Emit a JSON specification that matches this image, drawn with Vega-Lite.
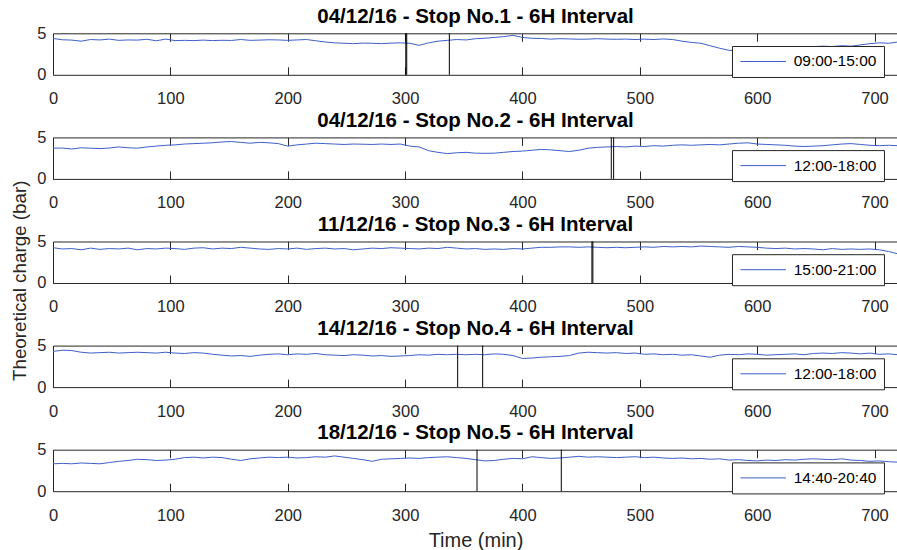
{
"$schema": "https://vega.github.io/schema/vega-lite/v6.json",
"padding": {"left": 9, "top": 6.3, "right": 0, "bottom": 0},
"bounds": "flush",
"spacing": 62.1,
"datasets": {
"p1": [{"t":0,"v":4.38},{"t":8,"v":4.22},{"t":16,"v":4.18},{"t":24,"v":4.05},{"t":32,"v":4.25},{"t":40,"v":4.2},{"t":48,"v":4.3},{"t":56,"v":4.15},{"t":64,"v":4.2},{"t":72,"v":4.18},{"t":80,"v":4.28},{"t":88,"v":4.1},{"t":96,"v":4.3},{"t":104,"v":4.12},{"t":112,"v":4.15},{"t":120,"v":4.12},{"t":128,"v":4.18},{"t":136,"v":4.12},{"t":144,"v":4.16},{"t":152,"v":4.14},{"t":160,"v":4.25},{"t":168,"v":4.15},{"t":176,"v":4.18},{"t":184,"v":4.22},{"t":192,"v":4.2},{"t":200,"v":4.15},{"t":208,"v":4.2},{"t":216,"v":4.25},{"t":224,"v":4.1},{"t":232,"v":3.95},{"t":240,"v":3.85},{"t":248,"v":3.8},{"t":256,"v":3.75},{"t":264,"v":3.82},{"t":272,"v":3.8},{"t":280,"v":3.75},{"t":288,"v":3.82},{"t":296,"v":3.85},{"t":304,"v":3.8},{"t":312,"v":3.55},{"t":320,"v":3.85},{"t":328,"v":4.05},{"t":336,"v":4.15},{"t":344,"v":4.25},{"t":352,"v":4.2},{"t":360,"v":4.35},{"t":368,"v":4.4},{"t":376,"v":4.5},{"t":384,"v":4.6},{"t":392,"v":4.75},{"t":400,"v":4.5},{"t":408,"v":4.4},{"t":416,"v":4.38},{"t":424,"v":4.3},{"t":432,"v":4.35},{"t":440,"v":4.32},{"t":448,"v":4.28},{"t":456,"v":4.3},{"t":464,"v":4.35},{"t":472,"v":4.3},{"t":480,"v":4.28},{"t":488,"v":4.3},{"t":496,"v":4.25},{"t":504,"v":4.3},{"t":512,"v":4.25},{"t":520,"v":4.32},{"t":528,"v":4.25},{"t":536,"v":4.05},{"t":544,"v":3.9},{"t":552,"v":3.8},{"t":560,"v":3.5},{"t":568,"v":3.2},{"t":576,"v":2.95},{"t":584,"v":2.9},{"t":592,"v":2.95},{"t":600,"v":3.0},{"t":608,"v":3.1},{"t":616,"v":3.2},{"t":624,"v":3.35},{"t":632,"v":3.4},{"t":640,"v":3.35},{"t":648,"v":3.4},{"t":656,"v":3.45},{"t":664,"v":3.4},{"t":672,"v":3.5},{"t":680,"v":3.45},{"t":688,"v":3.6},{"t":696,"v":3.75},{"t":704,"v":3.85},{"t":712,"v":3.8},{"t":720,"v":3.95}],
"p2": [{"t":0,"v":3.7},{"t":8,"v":3.72},{"t":16,"v":3.6},{"t":24,"v":3.75},{"t":32,"v":3.7},{"t":40,"v":3.65},{"t":48,"v":3.72},{"t":56,"v":3.85},{"t":64,"v":3.75},{"t":72,"v":3.7},{"t":80,"v":3.85},{"t":88,"v":3.95},{"t":96,"v":4.05},{"t":104,"v":4.1},{"t":112,"v":4.2},{"t":120,"v":4.25},{"t":128,"v":4.3},{"t":136,"v":4.35},{"t":144,"v":4.45},{"t":152,"v":4.5},{"t":160,"v":4.4},{"t":168,"v":4.3},{"t":176,"v":4.4},{"t":184,"v":4.35},{"t":192,"v":4.25},{"t":200,"v":3.95},{"t":208,"v":4.1},{"t":216,"v":4.2},{"t":224,"v":4.3},{"t":232,"v":4.25},{"t":240,"v":4.2},{"t":248,"v":4.15},{"t":256,"v":4.2},{"t":264,"v":4.18},{"t":272,"v":4.15},{"t":280,"v":4.2},{"t":288,"v":4.15},{"t":296,"v":4.2},{"t":304,"v":3.95},{"t":312,"v":3.85},{"t":320,"v":3.4},{"t":328,"v":3.2},{"t":336,"v":3.05},{"t":344,"v":3.15},{"t":352,"v":3.2},{"t":360,"v":3.1},{"t":368,"v":3.08},{"t":376,"v":3.1},{"t":384,"v":3.2},{"t":392,"v":3.3},{"t":400,"v":3.35},{"t":408,"v":3.45},{"t":416,"v":3.55},{"t":424,"v":3.5},{"t":432,"v":3.4},{"t":440,"v":3.3},{"t":448,"v":3.45},{"t":456,"v":3.7},{"t":464,"v":3.8},{"t":472,"v":3.85},{"t":480,"v":3.9},{"t":488,"v":3.85},{"t":496,"v":3.95},{"t":504,"v":3.9},{"t":512,"v":4.0},{"t":520,"v":3.95},{"t":528,"v":4.05},{"t":536,"v":4.1},{"t":544,"v":4.05},{"t":552,"v":4.1},{"t":560,"v":4.15},{"t":568,"v":4.1},{"t":576,"v":4.2},{"t":584,"v":4.3},{"t":592,"v":4.35},{"t":600,"v":4.2},{"t":608,"v":4.15},{"t":616,"v":4.1},{"t":624,"v":4.05},{"t":632,"v":3.95},{"t":640,"v":3.9},{"t":648,"v":3.95},{"t":656,"v":4.0},{"t":664,"v":4.1},{"t":672,"v":4.2},{"t":680,"v":4.25},{"t":688,"v":4.15},{"t":696,"v":4.05},{"t":704,"v":4.0},{"t":712,"v":4.05},{"t":720,"v":4.0}],
"p3": [{"t":0,"v":4.25},{"t":8,"v":4.1},{"t":16,"v":4.15},{"t":24,"v":4.0},{"t":32,"v":4.2},{"t":40,"v":4.05},{"t":48,"v":4.15},{"t":56,"v":4.1},{"t":64,"v":4.2},{"t":72,"v":4.0},{"t":80,"v":4.15},{"t":88,"v":4.1},{"t":96,"v":4.2},{"t":104,"v":4.15},{"t":112,"v":4.05},{"t":120,"v":4.2},{"t":128,"v":4.25},{"t":136,"v":4.1},{"t":144,"v":4.2},{"t":152,"v":4.15},{"t":160,"v":4.3},{"t":168,"v":4.2},{"t":176,"v":4.1},{"t":184,"v":4.05},{"t":192,"v":4.15},{"t":200,"v":4.1},{"t":208,"v":4.2},{"t":216,"v":4.05},{"t":224,"v":4.15},{"t":232,"v":4.2},{"t":240,"v":4.1},{"t":248,"v":4.15},{"t":256,"v":4.0},{"t":264,"v":4.1},{"t":272,"v":4.2},{"t":280,"v":4.15},{"t":288,"v":4.25},{"t":296,"v":4.2},{"t":304,"v":4.15},{"t":312,"v":4.1},{"t":320,"v":4.2},{"t":328,"v":4.15},{"t":336,"v":4.3},{"t":344,"v":4.2},{"t":352,"v":4.1},{"t":360,"v":4.15},{"t":368,"v":4.05},{"t":376,"v":4.1},{"t":384,"v":4.05},{"t":392,"v":4.15},{"t":400,"v":4.1},{"t":408,"v":4.2},{"t":416,"v":4.3},{"t":424,"v":4.3},{"t":432,"v":4.35},{"t":440,"v":4.35},{"t":448,"v":4.3},{"t":456,"v":4.35},{"t":464,"v":4.3},{"t":472,"v":4.25},{"t":480,"v":4.3},{"t":488,"v":4.25},{"t":496,"v":4.3},{"t":504,"v":4.35},{"t":512,"v":4.3},{"t":520,"v":4.4},{"t":528,"v":4.35},{"t":536,"v":4.4},{"t":544,"v":4.35},{"t":552,"v":4.45},{"t":560,"v":4.4},{"t":568,"v":4.35},{"t":576,"v":4.3},{"t":584,"v":4.4},{"t":592,"v":4.35},{"t":600,"v":4.3},{"t":608,"v":4.2},{"t":616,"v":4.15},{"t":624,"v":4.2},{"t":632,"v":4.1},{"t":640,"v":4.15},{"t":648,"v":4.1},{"t":656,"v":4.0},{"t":664,"v":4.15},{"t":672,"v":4.05},{"t":680,"v":4.1},{"t":688,"v":4.05},{"t":696,"v":4.1},{"t":704,"v":4.0},{"t":712,"v":3.8},{"t":720,"v":3.5}],
"p4": [{"t":0,"v":4.3},{"t":8,"v":4.45},{"t":16,"v":4.4},{"t":24,"v":4.2},{"t":32,"v":4.1},{"t":40,"v":4.15},{"t":48,"v":4.2},{"t":56,"v":4.1},{"t":64,"v":4.15},{"t":72,"v":4.2},{"t":80,"v":4.15},{"t":88,"v":4.1},{"t":96,"v":4.2},{"t":104,"v":4.1},{"t":112,"v":4.05},{"t":120,"v":4.15},{"t":128,"v":4.1},{"t":136,"v":3.95},{"t":144,"v":3.85},{"t":152,"v":3.75},{"t":160,"v":3.8},{"t":168,"v":3.7},{"t":176,"v":3.85},{"t":184,"v":3.95},{"t":192,"v":4.0},{"t":200,"v":3.9},{"t":208,"v":4.0},{"t":216,"v":3.95},{"t":224,"v":4.05},{"t":232,"v":3.9},{"t":240,"v":3.85},{"t":248,"v":3.8},{"t":256,"v":3.9},{"t":264,"v":3.85},{"t":272,"v":3.75},{"t":280,"v":3.8},{"t":288,"v":3.7},{"t":296,"v":3.75},{"t":304,"v":3.8},{"t":312,"v":3.9},{"t":320,"v":3.85},{"t":328,"v":3.95},{"t":336,"v":3.9},{"t":344,"v":3.95},{"t":352,"v":3.9},{"t":360,"v":3.95},{"t":368,"v":3.9},{"t":376,"v":4.0},{"t":384,"v":3.95},{"t":392,"v":3.8},{"t":400,"v":3.45},{"t":408,"v":3.5},{"t":416,"v":3.6},{"t":424,"v":3.65},{"t":432,"v":3.7},{"t":440,"v":3.8},{"t":448,"v":4.1},{"t":456,"v":4.2},{"t":464,"v":4.15},{"t":472,"v":4.1},{"t":480,"v":4.15},{"t":488,"v":4.05},{"t":496,"v":4.1},{"t":504,"v":3.95},{"t":512,"v":4.0},{"t":520,"v":3.9},{"t":528,"v":3.95},{"t":536,"v":3.85},{"t":544,"v":3.9},{"t":552,"v":3.75},{"t":560,"v":3.6},{"t":568,"v":3.85},{"t":576,"v":3.95},{"t":584,"v":3.9},{"t":592,"v":4.0},{"t":600,"v":3.95},{"t":608,"v":3.85},{"t":616,"v":3.9},{"t":624,"v":3.95},{"t":632,"v":4.0},{"t":640,"v":3.9},{"t":648,"v":4.05},{"t":656,"v":4.1},{"t":664,"v":4.05},{"t":672,"v":4.15},{"t":680,"v":4.1},{"t":688,"v":4.0},{"t":696,"v":4.1},{"t":704,"v":3.95},{"t":712,"v":4.0},{"t":720,"v":3.9}],
"p5": [{"t":0,"v":3.3},{"t":8,"v":3.35},{"t":16,"v":3.3},{"t":24,"v":3.4},{"t":32,"v":3.35},{"t":40,"v":3.3},{"t":48,"v":3.45},{"t":56,"v":3.6},{"t":64,"v":3.7},{"t":72,"v":3.85},{"t":80,"v":3.8},{"t":88,"v":3.7},{"t":96,"v":3.75},{"t":104,"v":3.85},{"t":112,"v":4.05},{"t":120,"v":4.1},{"t":128,"v":4.0},{"t":136,"v":4.1},{"t":144,"v":4.05},{"t":152,"v":3.85},{"t":160,"v":3.7},{"t":168,"v":3.9},{"t":176,"v":4.0},{"t":184,"v":4.1},{"t":192,"v":4.05},{"t":200,"v":4.1},{"t":208,"v":4.0},{"t":216,"v":4.05},{"t":224,"v":4.15},{"t":232,"v":4.1},{"t":240,"v":4.25},{"t":248,"v":4.1},{"t":256,"v":3.95},{"t":264,"v":3.8},{"t":272,"v":3.6},{"t":280,"v":3.85},{"t":288,"v":3.9},{"t":296,"v":3.95},{"t":304,"v":4.0},{"t":312,"v":3.95},{"t":320,"v":4.05},{"t":328,"v":4.1},{"t":336,"v":4.15},{"t":344,"v":4.05},{"t":352,"v":3.95},{"t":360,"v":3.8},{"t":368,"v":3.65},{"t":376,"v":3.7},{"t":384,"v":3.85},{"t":392,"v":3.95},{"t":400,"v":3.9},{"t":408,"v":4.15},{"t":416,"v":4.05},{"t":424,"v":3.95},{"t":432,"v":4.0},{"t":440,"v":4.1},{"t":448,"v":4.2},{"t":456,"v":4.1},{"t":464,"v":4.15},{"t":472,"v":4.1},{"t":480,"v":4.05},{"t":488,"v":4.1},{"t":496,"v":4.15},{"t":504,"v":4.05},{"t":512,"v":4.1},{"t":520,"v":4.0},{"t":528,"v":3.95},{"t":536,"v":4.0},{"t":544,"v":3.9},{"t":552,"v":3.95},{"t":560,"v":3.85},{"t":568,"v":3.9},{"t":576,"v":3.75},{"t":584,"v":3.8},{"t":592,"v":3.7},{"t":600,"v":3.65},{"t":608,"v":3.75},{"t":616,"v":3.7},{"t":624,"v":3.8},{"t":632,"v":3.75},{"t":640,"v":3.85},{"t":648,"v":3.9},{"t":656,"v":3.85},{"t":664,"v":3.8},{"t":672,"v":3.9},{"t":680,"v":3.75},{"t":688,"v":3.7},{"t":696,"v":3.6},{"t":704,"v":3.65},{"t":712,"v":3.55},{"t":720,"v":3.5}],
"s1": [{"t":300.6},{"t":301.4},{"t":337.7}],
"s2": [{"t":475.7},{"t":477.7}],
"s3": [{"t":459.2},{"t":460.0}],
"s4": [{"t":344.8},{"t":366.1}],
"s5": [{"t":361.3},{"t":433.1}]
},
"config": {
  "font": "Liberation Sans",
  "view": {"stroke": "#262626", "strokeWidth": 1},
  "axis": {"domain": false, "grid": false, "labelFont": "Liberation Sans", "labelFontSize": 16.5, "labelColor": "#262626", "tickColor": "#262626", "titleFont": "Liberation Sans", "titleFontWeight": "normal", "titleColor": "#262626", "labelFlush": false},
  "axisX": {"tickSize": -8, "labelPadding": 24, "labelOverlap": false},
  "axisY": {"ticks": false, "labelPadding": 7, "labelOverlap": false},
  "title": {"font": "Liberation Sans", "fontSize": 20.5, "fontWeight": "bold", "color": "black", "frame": "group", "anchor": "middle", "baseline": "alphabetic", "offset": -2},
  "legend": {"strokeColor": "#262626", "fillColor": "white", "padding": 7, "cornerRadius": 0, "symbolType": "M-2.85,0H2.85", "symbolSize": 256, "symbolOffset": 15.7, "symbolStrokeWidth": 1, "labelFont": "Liberation Sans", "labelFontSize": 15.5, "labelOffset": 22, "labelColor": "black"}
},
"resolve": {"scale": {"color": "independent"}, "legend": {"color": "independent"}},
"vconcat": [
{
 "width": 845, "height": 41.5,
 "title": "04/12/16 - Stop No.1 - 6H Interval",
 "layer": [
  {"data": {"name": "p1"}, "mark": {"type": "line", "strokeWidth": 1, "clip": true},
   "encoding": {
    "x": {"field": "t", "type": "quantitative", "scale": {"domain": [0,720], "nice": false, "zero": false}, "axis": {"orient": "bottom", "title": null, "values": [0,100,200,300,400,500,600,700]}},
    "y": {"field": "v", "type": "quantitative", "scale": {"domain": [0,5], "nice": false}, "axis": {"values": [0,5], "title": "Theoretical charge (bar)", "titleFontSize": 18.8, "titleX": -34, "titleY": 247, "titleBaseline": "middle", "titleAlign": "center", "titleAngle": 270}},
    "color": {"datum": "09:00-15:00", "type": "nominal", "scale": {"range": ["#3d5ec8"]}, "legend": {"title": null, "orient": "none", "legendX": 679, "legendY": 12.7}}
   }},
  {"data": {"name": "s1"}, "mark": {"type": "rule", "color": "black", "strokeWidth": 1},
   "encoding": {"x": {"field": "t", "type": "quantitative", "axis": {"orient": "top", "labels": false, "title": null, "values": [0,100,200,300,400,500,600,700]}}}}
 ],
 "resolve": {"axis": {"x": "independent"}}
},
{
 "width": 845, "height": 41.5,
 "title": "04/12/16 - Stop No.2 - 6H Interval",
 "layer": [
  {"data": {"name": "p2"}, "mark": {"type": "line", "strokeWidth": 1, "clip": true},
   "encoding": {
    "x": {"field": "t", "type": "quantitative", "scale": {"domain": [0,720], "nice": false, "zero": false}, "axis": {"orient": "bottom", "title": null, "values": [0,100,200,300,400,500,600,700]}},
    "y": {"field": "v", "type": "quantitative", "scale": {"domain": [0,5], "nice": false}, "axis": {"title": null, "values": [0,5]}},
    "color": {"datum": "12:00-18:00", "type": "nominal", "scale": {"range": ["#3d5ec8"]}, "legend": {"title": null, "orient": "none", "legendX": 679, "legendY": 12.7}}
   }},
  {"data": {"name": "s2"}, "mark": {"type": "rule", "color": "black", "strokeWidth": 1},
   "encoding": {"x": {"field": "t", "type": "quantitative", "axis": {"orient": "top", "labels": false, "title": null, "values": [0,100,200,300,400,500,600,700]}}}}
 ],
 "resolve": {"axis": {"x": "independent"}}
},
{
 "width": 845, "height": 41.5,
 "title": "11/12/16 - Stop No.3 - 6H Interval",
 "layer": [
  {"data": {"name": "p3"}, "mark": {"type": "line", "strokeWidth": 1, "clip": true},
   "encoding": {
    "x": {"field": "t", "type": "quantitative", "scale": {"domain": [0,720], "nice": false, "zero": false}, "axis": {"orient": "bottom", "title": null, "values": [0,100,200,300,400,500,600,700]}},
    "y": {"field": "v", "type": "quantitative", "scale": {"domain": [0,5], "nice": false}, "axis": {"title": null, "values": [0,5]}},
    "color": {"datum": "15:00-21:00", "type": "nominal", "scale": {"range": ["#3d5ec8"]}, "legend": {"title": null, "orient": "none", "legendX": 679, "legendY": 12.7}}
   }},
  {"data": {"name": "s3"}, "mark": {"type": "rule", "color": "black", "strokeWidth": 1},
   "encoding": {"x": {"field": "t", "type": "quantitative", "axis": {"orient": "top", "labels": false, "title": null, "values": [0,100,200,300,400,500,600,700]}}}}
 ],
 "resolve": {"axis": {"x": "independent"}}
},
{
 "width": 845, "height": 41.5,
 "title": "14/12/16 - Stop No.4 - 6H Interval",
 "layer": [
  {"data": {"name": "p4"}, "mark": {"type": "line", "strokeWidth": 1, "clip": true},
   "encoding": {
    "x": {"field": "t", "type": "quantitative", "scale": {"domain": [0,720], "nice": false, "zero": false}, "axis": {"orient": "bottom", "title": null, "values": [0,100,200,300,400,500,600,700]}},
    "y": {"field": "v", "type": "quantitative", "scale": {"domain": [0,5], "nice": false}, "axis": {"title": null, "values": [0,5]}},
    "color": {"datum": "12:00-18:00", "type": "nominal", "scale": {"range": ["#3d5ec8"]}, "legend": {"title": null, "orient": "none", "legendX": 679, "legendY": 12.7}}
   }},
  {"data": {"name": "s4"}, "mark": {"type": "rule", "color": "black", "strokeWidth": 1},
   "encoding": {"x": {"field": "t", "type": "quantitative", "axis": {"orient": "top", "labels": false, "title": null, "values": [0,100,200,300,400,500,600,700]}}}}
 ],
 "resolve": {"axis": {"x": "independent"}}
},
{
 "width": 845, "height": 41.5,
 "title": "18/12/16 - Stop No.5 - 6H Interval",
 "layer": [
  {"data": {"name": "p5"}, "mark": {"type": "line", "strokeWidth": 1, "clip": true},
   "encoding": {
    "x": {"field": "t", "type": "quantitative", "scale": {"domain": [0,720], "nice": false, "zero": false}, "axis": {"orient": "bottom", "values": [0,100,200,300,400,500,600,700], "title": "Time (min)", "titleFontSize": 20, "titleY": 55, "titleBaseline": "alphabetic"}},
    "y": {"field": "v", "type": "quantitative", "scale": {"domain": [0,5], "nice": false}, "axis": {"title": null, "values": [0,5]}},
    "color": {"datum": "14:40-20:40", "type": "nominal", "scale": {"range": ["#3d5ec8"]}, "legend": {"title": null, "orient": "none", "legendX": 679, "legendY": 12.7}}
   }},
  {"data": {"name": "s5"}, "mark": {"type": "rule", "color": "black", "strokeWidth": 1},
   "encoding": {"x": {"field": "t", "type": "quantitative", "axis": {"orient": "top", "labels": false, "title": null, "values": [0,100,200,300,400,500,600,700]}}}}
 ],
 "resolve": {"axis": {"x": "independent"}}
}
]
}
